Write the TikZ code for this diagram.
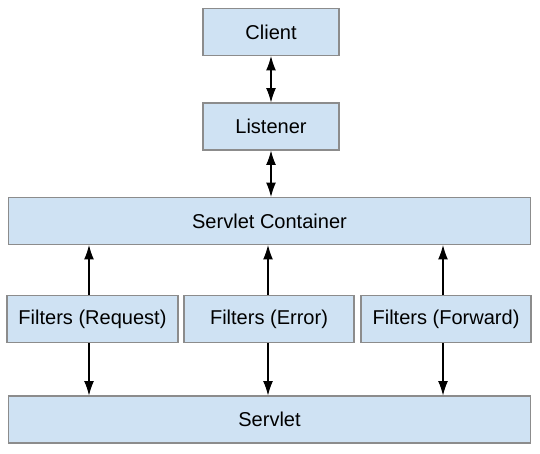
\documentclass[tikz,border=0pt]{standalone}
\usepackage{fontspec}
\setmainfont{Liberation Sans}
\usetikzlibrary{arrows.meta}
\definecolor{boxfill}{RGB}{207,226,243}
\definecolor{boxline}{RGB}{140,140,140}
\begin{document}
\begin{tikzpicture}[
    x=0.02cm, y=-0.02cm,
    block/.style={draw=boxline, line width=0.6pt, fill=boxfill, minimum width=#1, minimum height=0.94cm, inner sep=0pt, font=\fontsize{11.4}{13}\selectfont},
    arrow/.style={-{Latex[length=8.2pt,width=5.6pt]}, line width=0.6pt},
    twoway/.style={{Latex[length=8.2pt,width=5.6pt]}-{Latex[length=8.2pt,width=5.6pt]}, line width=0.6pt}
]
    \useasboundingbox (0,0) rectangle (540,453);
    \node[block=2.72cm] (client) at (271,32) {Client};
    \node[block=2.72cm] (listener) at (271,126.5) {Listener};
    \node[block=10.46cm] (container) at (269.5,221) {Servlet Container};
    \node[block=3.42cm] (freq) at (92.5,319) {Filters (Request)};
    \node[block=3.4cm] (ferr) at (269,319) {Filters (Error)};
    \node[block=3.4cm] (ffwd) at (446,319) {Filters (Forward)};
    \node[block=10.46cm] (servlet) at (269.5,419.5) {Servlet};

    % Top chain
    \draw[twoway] (client) -- (listener);
    \draw[twoway] (listener) -- (listener |- container.north);

    % Filters to container and servlet
    \foreach \f/\dx in {freq/-3.5, ferr/-1, ffwd/-3} {
        \draw[arrow] ([xshift=\dx*0.02cm]\f.north) -- ([xshift=\dx*0.02cm]\f.north |- container.south);
        \draw[arrow] ([xshift=\dx*0.02cm]\f.south) -- ([xshift=\dx*0.02cm]\f.south |- servlet.north);
    }
\end{tikzpicture}
\end{document}
